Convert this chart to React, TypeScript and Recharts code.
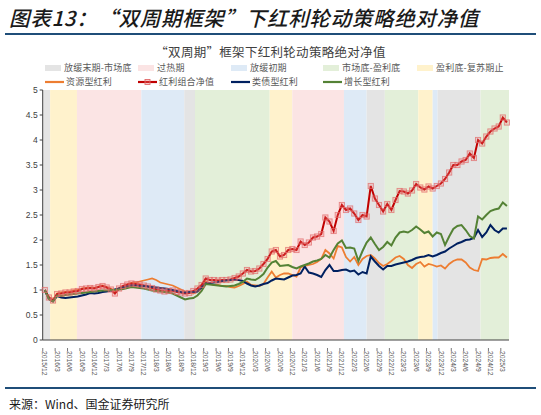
import React from 'react'
import {
  LineChart,
  Line,
  XAxis,
  YAxis,
  ReferenceArea,
} from 'recharts'

// monthly points, index 0 = 2015/12 ... 112 = 2025/4
const resource = [
  1.0, 0.86, 0.8, 0.93, 0.95, 0.96, 0.97, 0.99, 1.0, 1.03,
  1.04, 1.05, 1.04, 1.07, 1.09, 1.06, 1.03, 0.98, 1.04, 1.08,
  1.11, 1.14, 1.15, 1.17, 1.19, 1.21, 1.23, 1.2, 1.15, 1.13,
  1.11, 1.09, 1.05, 1.01, 0.97, 0.95, 0.93, 0.98, 1.05, 1.17,
  1.13, 1.1, 1.1, 1.08, 1.08, 1.06, 1.05, 1.08, 1.12, 1.17,
  1.1, 1.09, 1.08, 1.12, 1.25, 1.37, 1.25, 1.3, 1.33, 1.33,
  1.3, 1.27, 1.45, 1.48, 1.5, 1.52, 1.56, 1.62, 1.8, 1.73,
  1.63, 1.88, 1.85, 1.66, 1.57, 1.66, 1.5, 1.62, 1.68, 1.7,
  1.63, 1.54, 1.48, 1.52, 1.58, 1.65, 1.68, 1.62, 1.5, 1.44,
  1.52, 1.56, 1.47, 1.52, 1.5, 1.47, 1.49, 1.43, 1.52, 1.58,
  1.61, 1.61, 1.55, 1.45, 1.4, 1.38, 1.62, 1.61, 1.64, 1.65,
  1.65, 1.72, 1.65,
]

const portfolio = [
  1.0, 0.85, 0.79, 0.92, 0.93, 0.95, 0.95, 0.97, 0.98, 1.02,
  1.03, 1.04, 1.03, 1.06, 1.08, 1.05, 1.01, 0.93, 1.03, 1.08,
  1.11, 1.13, 1.12, 1.11, 1.09, 1.07, 1.04, 1.01, 0.99, 0.97,
  0.98, 0.99, 0.96, 0.95, 0.93, 0.94, 0.98, 1.03, 1.1, 1.23,
  1.2, 1.2, 1.19, 1.2, 1.2, 1.21, 1.24, 1.27, 1.33, 1.4,
  1.37, 1.38, 1.43, 1.52, 1.62, 1.77, 1.8, 1.67, 1.7, 1.8,
  1.82, 1.8, 1.97, 1.9, 1.95, 2.05, 2.07, 2.12, 2.45, 2.37,
  2.18, 2.5, 2.7, 2.6, 2.63, 2.53, 2.4, 2.5, 2.47, 3.08,
  2.83, 2.7, 2.57, 2.72, 2.6, 2.8, 2.98, 2.97, 2.93, 2.99,
  3.12, 3.05, 3.01, 3.07, 3.03, 3.08, 3.13, 3.22, 3.35, 3.5,
  3.5, 3.57, 3.6, 3.73, 3.64, 4.0, 3.93, 4.07, 4.17, 4.23,
  4.27, 4.45, 4.35,
]

const bondLike = [
  1.0, 0.82, 0.77, 0.88, 0.85, 0.84, 0.85, 0.86, 0.87, 0.89,
  0.91, 0.94, 0.93, 0.94, 0.96, 0.97, 0.99, 1.01, 1.03, 1.05,
  1.07, 1.09, 1.09, 1.08, 1.08, 1.07, 1.06, 1.05, 1.04, 1.03,
  1.02, 1.0, 0.98, 0.96, 0.95, 0.96, 0.96, 0.97, 1.05, 1.13,
  1.14, 1.15, 1.16, 1.18, 1.19, 1.2, 1.2, 1.2, 1.18, 1.13,
  1.09, 1.07, 1.09, 1.12, 1.14, 1.19, 1.23, 1.22, 1.21, 1.25,
  1.29, 1.3, 1.33, 1.47, 1.35, 1.33, 1.3, 1.26, 1.4, 1.5,
  1.38, 1.38, 1.4, 1.41, 1.37, 1.39, 1.31, 1.36, 1.33, 1.67,
  1.57, 1.48, 1.41, 1.48, 1.48, 1.51, 1.53, 1.55, 1.57, 1.6,
  1.64, 1.66, 1.67, 1.7, 1.67, 1.7, 1.74, 1.77, 1.83, 1.88,
  1.93, 1.96, 2.0, 2.01, 2.04, 2.2, 2.06, 2.15, 2.3, 2.2,
  2.15, 2.23, 2.23,
]

const growth = [
  1.0, 0.82, 0.77, 0.89, 0.88, 0.9, 0.91, 0.92, 0.93, 0.94,
  0.95, 0.96, 0.97, 0.98, 0.99, 0.99, 1.0, 1.0, 1.01, 1.02,
  1.04, 1.06, 1.05, 1.04, 1.03, 1.01, 0.99, 0.98, 0.97, 0.96,
  0.95, 0.93, 0.89, 0.85, 0.81, 0.83, 0.84, 0.89, 0.98, 1.12,
  1.11, 1.1, 1.09, 1.08, 1.07, 1.08, 1.09, 1.12, 1.16, 1.23,
  1.21, 1.2, 1.25, 1.32, 1.45, 1.55, 1.58, 1.48, 1.49, 1.5,
  1.46, 1.43, 1.47, 1.5, 1.53, 1.57, 1.59, 1.62, 1.7, 1.65,
  1.8, 1.93, 1.99, 1.84, 1.85, 1.83, 1.58, 1.78, 1.95, 2.05,
  1.92, 1.8, 1.86, 1.96, 1.89, 2.05, 2.15, 2.17, 2.15, 2.2,
  2.27, 2.21, 2.14, 2.17, 2.07, 2.15, 2.12, 1.9, 2.07, 2.22,
  2.28, 2.3, 2.2, 2.08, 2.03, 2.47, 2.41, 2.5, 2.58, 2.61,
  2.63, 2.75, 2.68,
]

// one label every 3 months
const tickLabels = [
  '2015/12', '2016/3', '2016/6', '2016/9', '2016/12', '2017/3', '2017/6', '2017/9',
  '2017/12', '2018/3', '2018/6', '2018/9', '2018/12', '2019/3', '2019/6', '2019/9',
  '2019/12', '2020/3', '2020/6', '2020/9', '2020/12', '2021/3', '2021/6', '2021/9',
  '2021/12', '2022/3', '2022/6', '2022/9', '2022/12', '2023/3', '2023/6', '2023/9',
  '2023/12', '2024/3', '2024/6', '2024/9', '2024/12', '2025/3',
]

const yTicks = [0, 0.5, 1, 1.5, 2, 2.5, 3, 3.5, 4, 4.5, 5]

// cycle phases: [start, end, phase] in month index
const phases: [number, number, string][] = [
  [-0.5, 1.3, 'late'],
  [1.3, 7.8, 'recovery'],
  [7.8, 23.4, 'hot'],
  [23.4, 33.8, 'early'],
  [33.8, 36.4, 'late'],
  [36.4, 54.5, 'bottom'],
  [54.5, 60, 'recovery'],
  [60, 72.5, 'hot'],
  [72.5, 78, 'early'],
  [78, 82.4, 'late'],
  [82.4, 90.5, 'bottom'],
  [90.5, 94, 'recovery'],
  [94, 95.2, 'early'],
  [95.2, 105.6, 'late'],
  [105.6, 112.5, 'bottom'],
]

const phaseColors: Record<string, string> = {
  late: '#e4e4e4',
  hot: '#fbe4e4',
  early: '#deeaf6',
  bottom: '#e3efd9',
  recovery: '#fff2cc',
}

const rows = portfolio.map((v, i) => ({
  i,
  resource: resource[i],
  portfolio: v,
  bondLike: bondLike[i],
  growth: growth[i],
}))

const cjk = '"Noto Sans CJK SC", sans-serif'
const latin = '"Liberation Sans", Arial, sans-serif'

const legendRow1 = [
  { label: '放缓末期-市场底', color: phaseColors.late, left: 45 },
  { label: '过热期', color: phaseColors.hot, left: 138 },
  { label: '放缓初期', color: phaseColors.early, left: 231 },
  { label: '市场底-盈利底', color: phaseColors.bottom, left: 323 },
  { label: '盈利底-复苏期止', color: phaseColors.recovery, left: 417 },
]

const legendRow2 = [
  { label: '资源型红利', color: '#ED7D31', left: 45, marker: false },
  { label: '红利组合净值', color: '#C00000', left: 138, marker: true },
  { label: '类债型红利', color: '#002060', left: 231, marker: false },
  { label: '增长型红利', color: '#548235', left: 323, marker: false },
]

function XTick({ x, y, payload }: any) {
  const label = tickLabels[Math.round(payload.value / 3)]
  return (
    <g transform={`translate(${x},${y})`}>
      <line x1={-2} x2={-2} y1={0} y2={3} stroke="#595959" strokeWidth={0.8} />
      <text
        transform="rotate(90)"
        x={3}
        y={0}
        dy="0.35em"
        fontSize={6.8}
        fontFamily={latin}
        fill="#595959"
        textAnchor="start"
      >
        {label}
      </text>
    </g>
  )
}

function SquareDot({ cx, cy, index }: any) {
  if (cx == null || cy == null) return <g key={index} />
  return (
    <rect
      key={index}
      x={cx - 2.6}
      y={cy - 2.6}
      width={5.2}
      height={5.2}
      fill="rgba(240,120,120,0.25)"
      stroke="#e06a6a"
      strokeOpacity={0.75}
      strokeWidth={0.9}
    />
  )
}

export default function App() {
  return (
    <div
      style={{
        position: 'absolute',
        left: 0,
        top: 0,
        width: 541,
        height: 415,
        background: '#fff',
        overflow: 'hidden',
      }}
    >
      <div
        style={{
          position: 'absolute',
          left: 9,
          top: 5,
          fontFamily: cjk,
          fontSize: 20.5,
          lineHeight: '24px',
          fontStyle: 'italic',
          fontWeight: 500,
          color: '#1a1a1a',
          whiteSpace: 'nowrap',
          letterSpacing: 0.7,
        }}
      >
        图表13：“双周期框架”下红利轮动策略绝对净值
      </div>
      <div style={{ position: 'absolute', left: 5, top: 33, width: 531, height: 2, background: '#1f4e79' }} />

      <div
        style={{
          position: 'absolute',
          left: 0,
          width: 541,
          top: 45,
          textAlign: 'center',
          fontFamily: cjk,
          fontSize: 12.5,
          lineHeight: '14px',
          letterSpacing: 0.3,
          color: '#404040',
        }}
      >
        “双周期”框架下红利轮动策略绝对净值
      </div>

      {legendRow1.map((d) => (
        <div
          key={d.label}
          style={{
            position: 'absolute',
            left: d.left,
            top: 63,
            height: 10,
            display: 'flex',
            alignItems: 'center',
            whiteSpace: 'nowrap',
          }}
        >
          <span style={{ display: 'inline-block', width: 16, height: 6, background: d.color, marginRight: 3 }} />
          <span style={{ fontFamily: cjk, fontSize: 9, lineHeight: '10px', letterSpacing: 0.2, color: '#595959' }}>
            {d.label}
          </span>
        </div>
      ))}
      {legendRow2.map((d) => (
        <div
          key={d.label}
          style={{
            position: 'absolute',
            left: d.left,
            top: 77,
            height: 10,
            display: 'flex',
            alignItems: 'center',
            whiteSpace: 'nowrap',
          }}
        >
          <svg width={19} height={8} style={{ marginRight: 2 }}>
            <line x1={0} x2={19} y1={4} y2={4} stroke={d.color} strokeWidth={2.2} />
            {d.marker && (
              <rect x={7} y={1.5} width={5} height={5} fill="rgba(240,120,120,0.3)" stroke="#e06a6a" strokeWidth={0.9} />
            )}
          </svg>
          <span style={{ fontFamily: cjk, fontSize: 9, lineHeight: '10px', letterSpacing: 0.2, color: '#595959' }}>
            {d.label}
          </span>
        </div>
      ))}

      <div style={{ position: 'absolute', left: 0, top: 0 }}>
        <LineChart
          width={541}
          height={415}
          data={rows}
          margin={{ top: 90, right: 32, bottom: 40, left: 8 }}
        >
          {phases.map(([x1, x2, p], k) => (
            <ReferenceArea
              key={k}
              x1={x1}
              x2={x2}
              y1={0}
              y2={5}
              fill={phaseColors[p]}
              fillOpacity={1}
              stroke="none"
              ifOverflow="extendDomain"
            />
          ))}
          <XAxis
            dataKey="i"
            type="number"
            domain={[-0.5, 112.5]}
            ticks={tickLabels.map((_, k) => k * 3)}
            tick={<XTick />}
            tickLine={false}
            axisLine={{ stroke: '#404040', strokeWidth: 1 }}
            interval={0}
            height={35}
          />
          <YAxis
            domain={[0, 5]}
            ticks={yTicks}
            width={34.7}
            axisLine={{ stroke: '#404040', strokeWidth: 1 }}
            tickLine={{ stroke: '#404040' }}
            tickSize={3}
            tick={{ fontSize: 8.5, fill: '#404040', fontFamily: latin }}
            interval={0}
          />
          <Line
            dataKey="resource"
            stroke="#ED7D31"
            strokeWidth={1.8}
            dot={false}
            isAnimationActive={false}
          />
          <Line
            dataKey="portfolio"
            stroke="#C00000"
            strokeWidth={2}
            dot={<SquareDot />}
            isAnimationActive={false}
          />
          <Line
            dataKey="bondLike"
            stroke="#002060"
            strokeWidth={2}
            dot={false}
            isAnimationActive={false}
          />
          <Line
            dataKey="growth"
            stroke="#548235"
            strokeWidth={2}
            dot={false}
            isAnimationActive={false}
          />
        </LineChart>
      </div>

      <div style={{ position: 'absolute', left: 5, top: 387, width: 531, height: 2, background: '#1f4e79' }} />
      <div
        style={{
          position: 'absolute',
          left: 9,
          top: 396,
          fontFamily: cjk,
          fontSize: 12,
          lineHeight: '16px',
          color: '#1a1a1a',
          whiteSpace: 'nowrap',
        }}
      >
        来源：Wind、国金证券研究所
      </div>
    </div>
  )
}
